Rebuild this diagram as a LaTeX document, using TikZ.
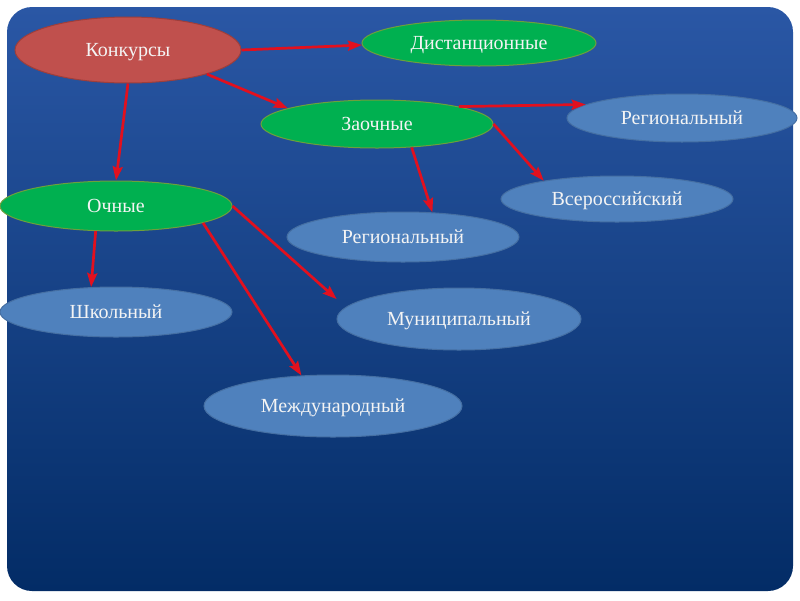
\documentclass[tikz,border=0pt]{standalone}
\usepackage{fontspec}
\setmainfont{Liberation Serif}
\usetikzlibrary{shapes.geometric,arrows.meta,calc}
\definecolor{bgtop}{HTML}{2A57A5}
\definecolor{bgbot}{HTML}{032C66}
\definecolor{redfill}{HTML}{C0504D}
\definecolor{redline}{HTML}{9E3E3B}
\definecolor{greenfill}{HTML}{00B050}
\definecolor{greenline}{HTML}{6E9F3C}
\definecolor{bluefill}{HTML}{4F81BD}
\definecolor{blueline}{HTML}{456FA3}
\definecolor{arrred}{HTML}{E2101E}
\definecolor{txt}{HTML}{F4F4F4}
\tikzset{
  ell/.style={ellipse, inner sep=0pt, line width=1pt, text=txt, text height=12pt, text depth=0pt, font=\fontsize{20}{22}\selectfont},
  rednode/.style={ell, fill=redfill, draw=redline},
  greennode/.style={ell, fill=greenfill, draw=greenline},
  bluenode/.style={ell, fill=bluefill, draw=blueline},
  arr/.style={draw=arrred, line width=2.7pt, -{Stealth[length=14pt,width=10pt,inset=2pt]}}
}
\begin{document}
\begin{tikzpicture}[x=1pt,y=-1pt]
\useasboundingbox (0,0) rectangle (800,600);
\shade[top color=bgtop,bottom color=bgbot,rounded corners=25pt] (7,7) rectangle (793,591);

\node[rednode, minimum width=226pt, minimum height=66pt] (k) at (128,50) {Конкурсы};
\node[greennode, minimum width=234pt, minimum height=46pt] (d) at (479,43) {Дистанционные};
\node[greennode, minimum width=232pt, minimum height=48pt] (z) at (377,124) {Заочные};
\node[bluenode, minimum width=230pt, minimum height=48pt] (r1) at (682,118) {Региональный};
\node[bluenode, minimum width=232pt, minimum height=46pt] (v) at (617,199) {Всероссийский};
\node[greennode, minimum width=232pt, minimum height=50pt] (o) at (116,206) {Очные};
\node[bluenode, minimum width=232pt, minimum height=50pt] (r2) at (403,237) {Региональный};
\node[bluenode, minimum width=232pt, minimum height=50pt] (s) at (116,312) {Школьный};
\node[bluenode, minimum width=244pt, minimum height=62pt] (m) at (459,319) {Муниципальный};
\node[bluenode, minimum width=258pt, minimum height=62pt] (i) at (333,406) {Международный};

\draw[arr] (k.east) -- (d.181);
\draw[arr] (k.-17.4) -- (z.170.6);
\draw[arr] (k.south) -- (o.north);
\draw[arr] (z.12.6) -- (r1.172);
\draw[arr] (z.east) -- (v.166.5);
\draw[arr] (z.-34.4) -- (r2.40.8);
\draw[arr] (o.231.6) -- (s.135);
\draw[arr, shorten >=12pt] (o.east) -- (m.174.3);
\draw[arr] (o.-11.7) -- (i.136.8);
\end{tikzpicture}
\end{document}
